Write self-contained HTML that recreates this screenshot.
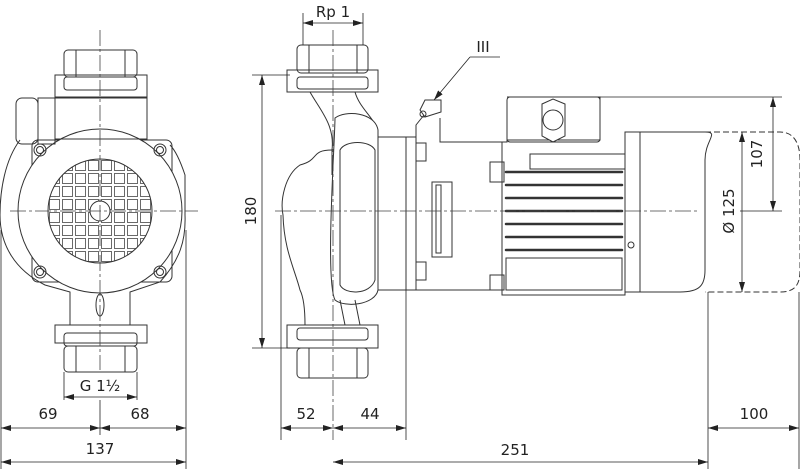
<!DOCTYPE html>
<html><head><meta charset="utf-8"><style>
html,body{margin:0;padding:0;background:#fff}
svg{display:block}
text{font-family:"DejaVu Sans","Liberation Sans",sans-serif;font-size:15px;fill:#222}
</style></head><body>
<svg width="800" height="469" viewBox="0 0 800 469" xmlns="http://www.w3.org/2000/svg">
<defs>
<marker id="a" markerWidth="10" markerHeight="6" refX="10" refY="3" orient="auto-start-reverse" markerUnits="userSpaceOnUse"><path d="M0,0 L10,3 L0,6 z" fill="#222"/></marker>
<pattern id="g" x="48" y="159" width="13" height="13" patternUnits="userSpaceOnUse"><rect x="1.5" y="1.5" width="10" height="10" fill="none" stroke="#444" stroke-width="0.8"/></pattern>
<clipPath id="c"><circle cx="100" cy="211" r="52"/></clipPath>
</defs>
<g fill="none" stroke="#333" stroke-width="1">
<!-- LEFT VIEW -->
<path d="M20,140 C5,160 0,190 0,215 C0,245 15,270 45,285 L70,292 L70,325 M130,325 L130,292 L160,282 C180,260 186,240 185,215 L185,175 C180,160 175,150 170,145"/>
<rect x="32" y="140" width="140" height="142" rx="6"/>
<circle cx="100" cy="211" r="82" fill="#fff"/>
<rect x="40" y="150" width="120" height="120" fill="url(#g)" stroke="none" clip-path="url(#c)"/>
<circle cx="100" cy="211" r="52"/>
<circle cx="100" cy="211" r="10" fill="#fff"/>
<circle cx="40" cy="150" r="6"/><circle cx="40" cy="150" r="3.5"/>
<circle cx="160" cy="150" r="6"/><circle cx="160" cy="150" r="3.5"/>
<circle cx="40" cy="272" r="6"/><circle cx="40" cy="272" r="3.5"/>
<circle cx="160" cy="272" r="6"/><circle cx="160" cy="272" r="3.5"/>
<rect x="55" y="97" width="92" height="42"/>
<rect x="16" y="98" width="22" height="46" rx="6"/><rect x="38" y="98" width="17" height="46"/>
<rect x="55" y="75" width="92" height="23"/>
<rect x="64" y="77" width="73" height="13" rx="3"/>
<rect x="64" y="50" width="73" height="27" rx="4"/><line x1="76" y1="50" x2="76" y2="77"/><line x1="125" y1="50" x2="125" y2="77"/>
<ellipse cx="100" cy="305" rx="4" ry="11"/>
<rect x="55" y="325" width="92" height="18"/>
<rect x="64" y="333" width="73" height="13" rx="3"/>
<rect x="64" y="346" width="73" height="26" rx="4"/><line x1="76" y1="346" x2="76" y2="372"/><line x1="125" y1="346" x2="125" y2="372"/>

<!-- MIDDLE VIEW -->
<rect x="297" y="45" width="71" height="28" rx="4"/><line x1="309" y1="45" x2="309" y2="73"/><line x1="357" y1="45" x2="357" y2="73"/>
<rect x="287" y="70" width="91" height="22"/><rect x="297" y="77" width="71" height="12" rx="3"/>
<path d="M310,92 C320,110 335,125 332,150 L332,175 M355,92 C360,110 378,120 378,135"/>
<path d="M335,118 C345,110 375,112 378,130 L378,290 C375,305 345,308 335,300 C325,280 335,140 335,118 z" fill="#fff"/>
<path d="M340,150 C345,140 370,140 375,150 L375,280 C370,295 345,295 340,285 z"/>
<path d="M332,150 C310,150 320,160 300,165 C285,175 280,200 283,215 C284,250 295,270 300,290 C305,300 305,320 305,325"/>
<path d="M355,300 L360,325 M340,300 L345,325"/>
<rect x="378" y="137" width="28" height="153"/><rect x="406" y="137" width="10" height="153"/>
<rect x="416" y="143" width="10" height="18"/><rect x="416" y="262" width="10" height="18"/>
<rect x="432" y="182" width="20" height="75"/><rect x="436" y="185" width="5" height="68"/>
<rect x="287" y="325" width="91" height="23"/><rect x="297" y="328" width="71" height="12" rx="3"/>
<rect x="297" y="348" width="71" height="30" rx="4"/><line x1="309" y1="348" x2="309" y2="378"/><line x1="357" y1="348" x2="357" y2="378"/>
<path d="M416,137 L416,125 L428,110 M440,118 L440,142 L502,142 M416,290 L502,290"/>
<path d="M420,110 L425,100 L441,100 L441,112 L425,117 z" fill="#fff"/><circle cx="423" cy="114" r="3"/>
<!-- motor -->
<path d="M507,97 L600,97 L600,140 L507,140 L507,142 L502,142 L502,295 L625,295 L625,132" />
<rect x="507" y="97" width="93" height="45" rx="3"/>
<polygon points="542,104 553,99 565,104 565,136 553,142 542,136" fill="#fff"/><circle cx="553" cy="120" r="10"/>
<rect x="530" y="154" width="95" height="15"/>
<g stroke-width="2.5" stroke-linecap="round">
<line x1="506" y1="172" x2="622" y2="172"/><line x1="506" y1="185" x2="622" y2="185"/><line x1="506" y1="198" x2="622" y2="198"/><line x1="506" y1="211" x2="622" y2="211"/><line x1="506" y1="224" x2="622" y2="224"/><line x1="506" y1="237" x2="622" y2="237"/><line x1="506" y1="250" x2="622" y2="250"/></g>
<path d="M506,258 L622,258 L622,290 L506,290 z"/>
<rect x="490" y="162" width="14" height="20"/><rect x="490" y="275" width="14" height="15"/>
<path d="M625,132 L705,132 C720,132 705,140 705,160 L705,270 C705,285 700,292 680,292 L625,292 z" fill="#fff"/>
<line x1="640" y1="132" x2="640" y2="292"/>
<circle cx="631" cy="245" r="3"/>
<path d="M705,132 L780,132 C795,132 800,145 800,160 L800,270 C800,285 795,292 780,292 L705,292" stroke-dasharray="6,3"/>
</g>
<!-- center lines -->
<g stroke="#444" stroke-width="0.8" stroke-dasharray="16,3,3,3" fill="none">
<line x1="100" y1="30" x2="100" y2="370"/><line x1="10" y1="211" x2="198" y2="211"/>
<line x1="333" y1="30" x2="333" y2="440"/><line x1="275" y1="211" x2="700" y2="211"/>
</g>
<!-- dimensions -->
<g stroke="#222" stroke-width="0.8" fill="none">
<line x1="1" y1="230" x2="1" y2="469"/><line x1="186" y1="230" x2="186" y2="469"/>
<line x1="100" y1="400" x2="100" y2="435"/>
<line x1="64" y1="372" x2="64" y2="400"/><line x1="137" y1="372" x2="137" y2="400"/>
<line x1="64" y1="397" x2="137" y2="397" marker-start="url(#a)" marker-end="url(#a)"/>
<line x1="1" y1="428" x2="100" y2="428" marker-start="url(#a)" marker-end="url(#a)"/>
<line x1="100" y1="428" x2="186" y2="428" marker-start="url(#a)" marker-end="url(#a)"/>
<line x1="1" y1="462" x2="186" y2="462" marker-start="url(#a)" marker-end="url(#a)"/>
<line x1="303" y1="13" x2="303" y2="45"/><line x1="363" y1="13" x2="363" y2="45"/>
<line x1="303" y1="23" x2="363" y2="23" marker-start="url(#a)" marker-end="url(#a)"/>
<line x1="252" y1="75" x2="290" y2="75"/><line x1="252" y1="348" x2="290" y2="348"/>
<line x1="262" y1="75" x2="262" y2="348" marker-start="url(#a)" marker-end="url(#a)"/>
<line x1="281" y1="215" x2="281" y2="440"/><line x1="406" y1="290" x2="406" y2="440"/>
<line x1="281" y1="428" x2="333" y2="428" marker-start="url(#a)" marker-end="url(#a)"/>
<line x1="333" y1="428" x2="406" y2="428" marker-start="url(#a)" marker-end="url(#a)"/>
<line x1="333" y1="462" x2="708" y2="462" marker-start="url(#a)" marker-end="url(#a)"/>
<line x1="708" y1="292" x2="708" y2="469"/><line x1="799" y1="292" x2="799" y2="469"/>
<line x1="708" y1="428" x2="799" y2="428" marker-start="url(#a)" marker-end="url(#a)"/>
<line x1="600" y1="97" x2="782" y2="97"/><line x1="740" y1="211" x2="782" y2="211"/>
<line x1="773" y1="97" x2="773" y2="211" marker-start="url(#a)" marker-end="url(#a)"/>
<line x1="742" y1="132" x2="742" y2="292" marker-start="url(#a)" marker-end="url(#a)"/>
<line x1="470" y1="57" x2="500" y2="57"/>
<line x1="470" y1="57" x2="434" y2="100" marker-end="url(#a)"/>
</g>
<text x="100" y="391" text-anchor="middle">G 1½</text>
<text x="48" y="419" text-anchor="middle">69</text>
<text x="140" y="419" text-anchor="middle">68</text>
<text x="100" y="454" text-anchor="middle">137</text>
<text x="333" y="17" text-anchor="middle">Rp 1</text>
<text x="483" y="52" text-anchor="middle">III</text>
<text transform="translate(256,211) rotate(-90)" text-anchor="middle">180</text>
<text x="306" y="419" text-anchor="middle">52</text>
<text x="370" y="419" text-anchor="middle">44</text>
<text x="515" y="455" text-anchor="middle">251</text>
<text x="754" y="419" text-anchor="middle">100</text>
<text transform="translate(762,154) rotate(-90)" text-anchor="middle">107</text>
<text transform="translate(734,211) rotate(-90)" text-anchor="middle">Ø 125</text>
</svg>
</body></html>
